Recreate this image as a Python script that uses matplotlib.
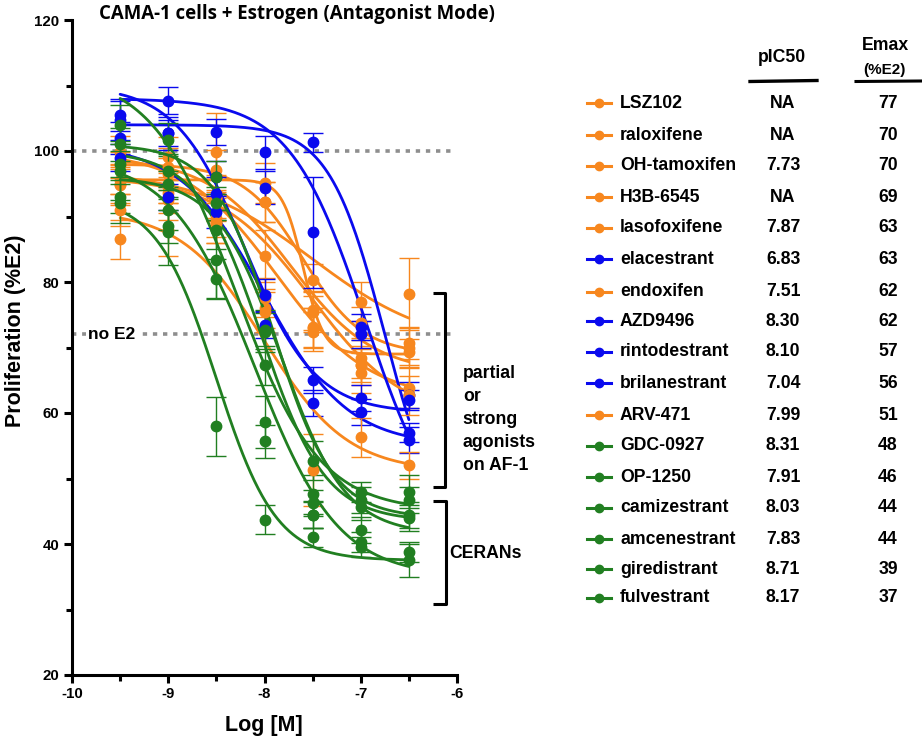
import numpy as np
import matplotlib
matplotlib.use('Agg')
import matplotlib.pyplot as plt
from matplotlib.lines import Line2D

W, H = 922, 740

log_conc = [-9.5, -9.0, -8.5, -8.0, -7.5, -7.0, -6.5]

compounds = ['LSZ102', 'raloxifene', 'OH-tamoxifen', 'H3B-6545', 'lasofoxifene',
             'elacestrant', 'endoxifen', 'AZD9496', 'rintodestrant', 'brilanestrant',
             'ARV-471', 'GDC-0927', 'OP-1250', 'camizestrant', 'amcenestrant',
             'giredistrant', 'fulvestrant']
groups = ['o', 'o', 'o', 'o', 'o', 'b', 'o', 'b', 'b', 'b', 'o',
          'g', 'g', 'g', 'g', 'g', 'g']
pic50_labels = ['NA', 'NA', '7.73', 'NA', '7.87', '6.83', '7.51', '8.30', '8.10',
                '7.04', '7.99', '8.31', '7.91', '8.03', '7.83', '8.71', '8.17']
emax_labels = ['77', '70', '70', '69', '63', '63', '62', '62', '57', '56', '51',
               '48', '46', '44', '44', '39', '37']

# mean proliferation (%E2) at each log concentration
means = {
    'LSZ102':        [95.0, 93.6, 92.8, 92.2, 80.3, 77.0, 78.2],
    'raloxifene':    [97.9, 96.5, 97.1, 92.2, 75.7, 73.7, 70.7],
    'OH-tamoxifen':  [99.8, 99.1, 99.8, 84.0, 73.1, 68.4, 70.0],
    'H3B-6545':      [95.5, 94.5, 89.0, 95.1, 75.4, 67.3, 69.3],
    'lasofoxifene':  [94.8, 97.5, 92.8, 76.0, 73.0, 66.1, 63.8],
    'elacestrant':   [104.7, 102.7, 102.9, 99.8, 101.3, 73.1, 62.7],
    'endoxifen':     [91.0, 92.5, 89.8, 77.6, 72.4, 67.3, 62.7],
    'AZD9496':       [102.0, 102.7, 90.7, 78.0, 65.0, 62.3, 62.0],
    'rintodestrant': [99.0, 93.0, 93.5, 73.4, 61.5, 60.2, 57.0],
    'brilanestrant': [105.5, 107.7, 96.0, 94.4, 87.6, 72.0, 55.9],
    'ARV-471':       [86.5, 88.0, 89.0, 75.4, 51.3, 56.3, 52.0],
    'GDC-0927':      [104.0, 101.7, 88.0, 67.3, 52.7, 47.9, 48.0],
    'OP-1250':       [101.0, 97.0, 96.0, 72.7, 47.6, 46.7, 46.7],
    'camizestrant':  [98.0, 95.0, 92.0, 58.6, 46.2, 45.6, 44.4],
    'amcenestrant':  [93.0, 88.5, 83.4, 72.3, 44.4, 42.1, 44.0],
    'giredistrant':  [92.0, 87.6, 58.0, 43.7, 41.0, 39.5, 38.8],
    'fulvestrant':   [97.0, 91.0, 80.5, 55.7, 44.5, 40.3, 37.5],
}
sds = {
    'LSZ102':        [3.0, 3.0, 3.5, 3.0, 2.5, 3.0, 5.5],
    'raloxifene':    [2.0, 2.5, 3.0, 3.0, 3.0, 2.5, 2.5],
    'OH-tamoxifen':  [2.5, 3.0, 6.0, 4.0, 3.0, 3.0, 3.0],
    'H3B-6545':      [2.0, 2.5, 3.0, 3.0, 3.0, 2.5, 2.0],
    'lasofoxifene':  [3.0, 3.0, 3.0, 3.0, 3.0, 3.0, 3.0],
    'elacestrant':   [3.0, 2.0, 2.0, 2.5, 1.5, 2.0, 2.0],
    'endoxifen':     [2.5, 3.0, 3.0, 3.0, 3.0, 3.0, 3.0],
    'AZD9496':       [2.5, 2.5, 2.5, 2.5, 2.0, 2.0, 1.5],
    'rintodestrant': [2.0, 2.0, 2.5, 2.0, 2.0, 2.0, 1.5],
    'brilanestrant': [2.5, 2.0, 2.5, 2.5, 8.5, 2.0, 2.0],
    'ARV-471':       [3.0, 4.0, 3.0, 3.0, 5.5, 3.0, 2.0],
    'GDC-0927':      [3.0, 2.5, 3.0, 3.0, 3.0, 1.5, 2.5],
    'OP-1250':       [2.5, 2.5, 2.5, 3.0, 3.0, 2.0, 2.0],
    'camizestrant':  [2.0, 2.0, 2.5, 4.0, 2.0, 2.0, 2.0],
    'amcenestrant':  [2.5, 2.5, 6.0, 3.0, 2.0, 2.0, 2.0],
    'giredistrant':  [3.0, 5.0, 4.5, 2.2, 1.5, 1.5, 1.5],
    'fulvestrant':   [4.5, 3.0, 3.0, 2.5, 2.0, 1.5, 2.5],
}

# fitted 4-parameter logistic curves
fit_top    = [97, 98, 99, 95.6, 100, 104, 96, 110, 101, 108, 91, 112, 101, 100, 96, 93, 99]
fit_bottom = [70, 69, 66, 69, 62, 40, 59, 60, 55, 40, 51, 45, 44, 43.5, 41.5, 37.5, 35]
fit_logic50 = [-7.5, -7.6, -7.73, -7.6, -7.87, -6.75, -7.51, -8.2, -8.0, -6.95, -8.0,
               -8.3, -7.91, -8.03, -7.83, -8.5, -8.1]
fit_hill   = [0.7, 1.4, 1.0, 4.0, 0.9, 1.5, 0.9, 1.2, 1.0, 1.1, 1.0,
              1.0, 1.4, 1.3, 1.3, 1.4, 1.0]

colors = {'o': '#F7871E', 'b': '#0A0AEE', 'g': '#217F21'}

FONT = 'Liberation Sans'
plt.rcParams['font.family'] = [FONT, 'DejaVu Sans']
plt.rcParams['axes.unicode_minus'] = False

fig = plt.figure(figsize=(W / 100, H / 100), dpi=100)
ax = fig.add_axes([72 / W, 1 - 675 / H, 385 / W, 655 / H])

xs = np.linspace(log_conc[0], log_conc[-1], 300)
for i, name in enumerate(compounds):
    c = colors[groups[i]]
    ax.errorbar(log_conc, means[name], yerr=sds[name], fmt='o', color=c, ms=7.5,
                ecolor=c, elinewidth=1.0, capsize=7, capthick=1.0, zorder=3 + i * 0.01)
    top, bot, lic, h = fit_top[i], fit_bottom[i], fit_logic50[i], fit_hill[i]
    ys = bot + (top - bot) / (1 + 10 ** (h * (xs - lic)))
    ax.plot(xs, ys, color=c, lw=2.0, zorder=3 + i * 0.01, solid_capstyle='round')

# reference lines
ref_style = dict(color='#8E8E8E', lw=2.6, linestyle=(0, (1.2, 1.6)), zorder=1)
ax.plot([-10, -6.04], [100, 100], **ref_style)
ax.plot([-10, -6.04], [72, 72], **ref_style)
ax.text(-9.835, 72, 'no E2', fontsize=12.5, fontweight='bold', ha='left', va='center',
        zorder=2, bbox=dict(facecolor='white', edgecolor='none', pad=1.0))

# brackets
bk = dict(color='black', lw=2.2, clip_on=False, zorder=5, solid_capstyle='butt')
ax.plot([-6.25, -6.125, -6.125, -6.25], [78.3, 78.3, 48.7, 48.7], **bk)
ax.plot([-6.25, -6.115, -6.115, -6.25], [46.6, 46.6, 30.8, 30.8], **bk)
ax.text(-5.94, 59.0, 'partial\nor\nstrong\nagonists\non AF-1', fontsize=12.7,
        fontweight='bold', ha='left', va='center', linespacing=1.45, clip_on=False)
ax.text(-6.08, 38.6, 'CERANs', fontsize=12.7, fontweight='bold', ha='left',
        va='center', clip_on=False)

# axes styling
ax.set_xlim(-10, -6)
ax.set_ylim(20, 120)
for s in ['top', 'right']:
    ax.spines[s].set_visible(False)
for s in ['left', 'bottom']:
    ax.spines[s].set_linewidth(2.2)
ax.set_xticks([-10, -9, -8, -7, -6])
ax.set_xticks([-9.5, -8.5, -7.5, -6.5], minor=True)
ax.set_yticks([20, 40, 60, 80, 100, 120])
ax.set_yticks([30, 50, 70, 90, 110], minor=True)
ax.tick_params(which='major', length=6, width=2.2, labelsize=10.8, pad=3)
ax.tick_params(which='minor', length=4, width=2.2)
for lab in ax.get_xticklabels() + ax.get_yticklabels():
    lab.set_fontweight('bold')

fig.text(264 / W, 1 - 726 / H, 'Log [M]', fontsize=15.5, fontweight='bold',
         ha='center', va='center')
fig.text(16 / W, 1 - 331 / H, 'Proliferation (%E2)', fontsize=15.5, fontweight='bold',
         ha='center', va='center', rotation=90)

# title, scaled to the width it spans in the reference
title = fig.text(99 / W, 1 - 14 / H, 'CAMA-1 cells + Estrogen (Antagonist Mode)',
                 fontsize=12.5, fontweight='bold', family=['Open Sans', 'DejaVu Sans'],
                 ha='left', va='center')
fig.canvas.draw()
tw = title.get_window_extent().width
title.set_fontsize(12.5 * 395.0 / tw)

# table legend
def fx(px):
    return px / W

def fy(py):
    return 1 - py / H

fig.text(fx(782), fy(57), 'pIC50', fontsize=12.7, fontweight='bold', ha='center', va='center')
fig.text(fx(885), fy(46), 'Emax', fontsize=12.7, fontweight='bold', ha='center', va='center')
fig.text(fx(884), fy(70), '(%E2)', fontsize=11, fontweight='bold', ha='center', va='center')
fig.add_artist(Line2D([fx(750), fx(817)], [fy(81.5), fy(80.5)], color='black', lw=2.4,
                      transform=fig.transFigure))
fig.add_artist(Line2D([fx(856), fx(921)], [fy(81.5), fy(81)], color='black', lw=2.2,
                      transform=fig.transFigure))

row_y = [103, 135, 166, 197, 228, 259, 292, 321, 352, 383, 415, 446, 477, 508, 539, 569, 598]
for i, name in enumerate(compounds):
    c = colors[groups[i]]
    y = fy(row_y[i])
    fig.add_artist(Line2D([fx(587), fx(611)], [y, y], color=c, lw=2.2,
                          transform=fig.transFigure))
    fig.add_artist(Line2D([fx(599)], [y], color=c, marker='o', ms=6, lw=0,
                          transform=fig.transFigure))
    fig.text(fx(620), y, name, fontsize=12.7, fontweight='bold', ha='left', va='center')
    fig.text(fx(783), y, pic50_labels[i], fontsize=12.7, fontweight='bold', ha='center', va='center')
    fig.text(fx(888), y, emax_labels[i], fontsize=12.7, fontweight='bold', ha='center', va='center')

fig.savefig('out.png', dpi=100)
